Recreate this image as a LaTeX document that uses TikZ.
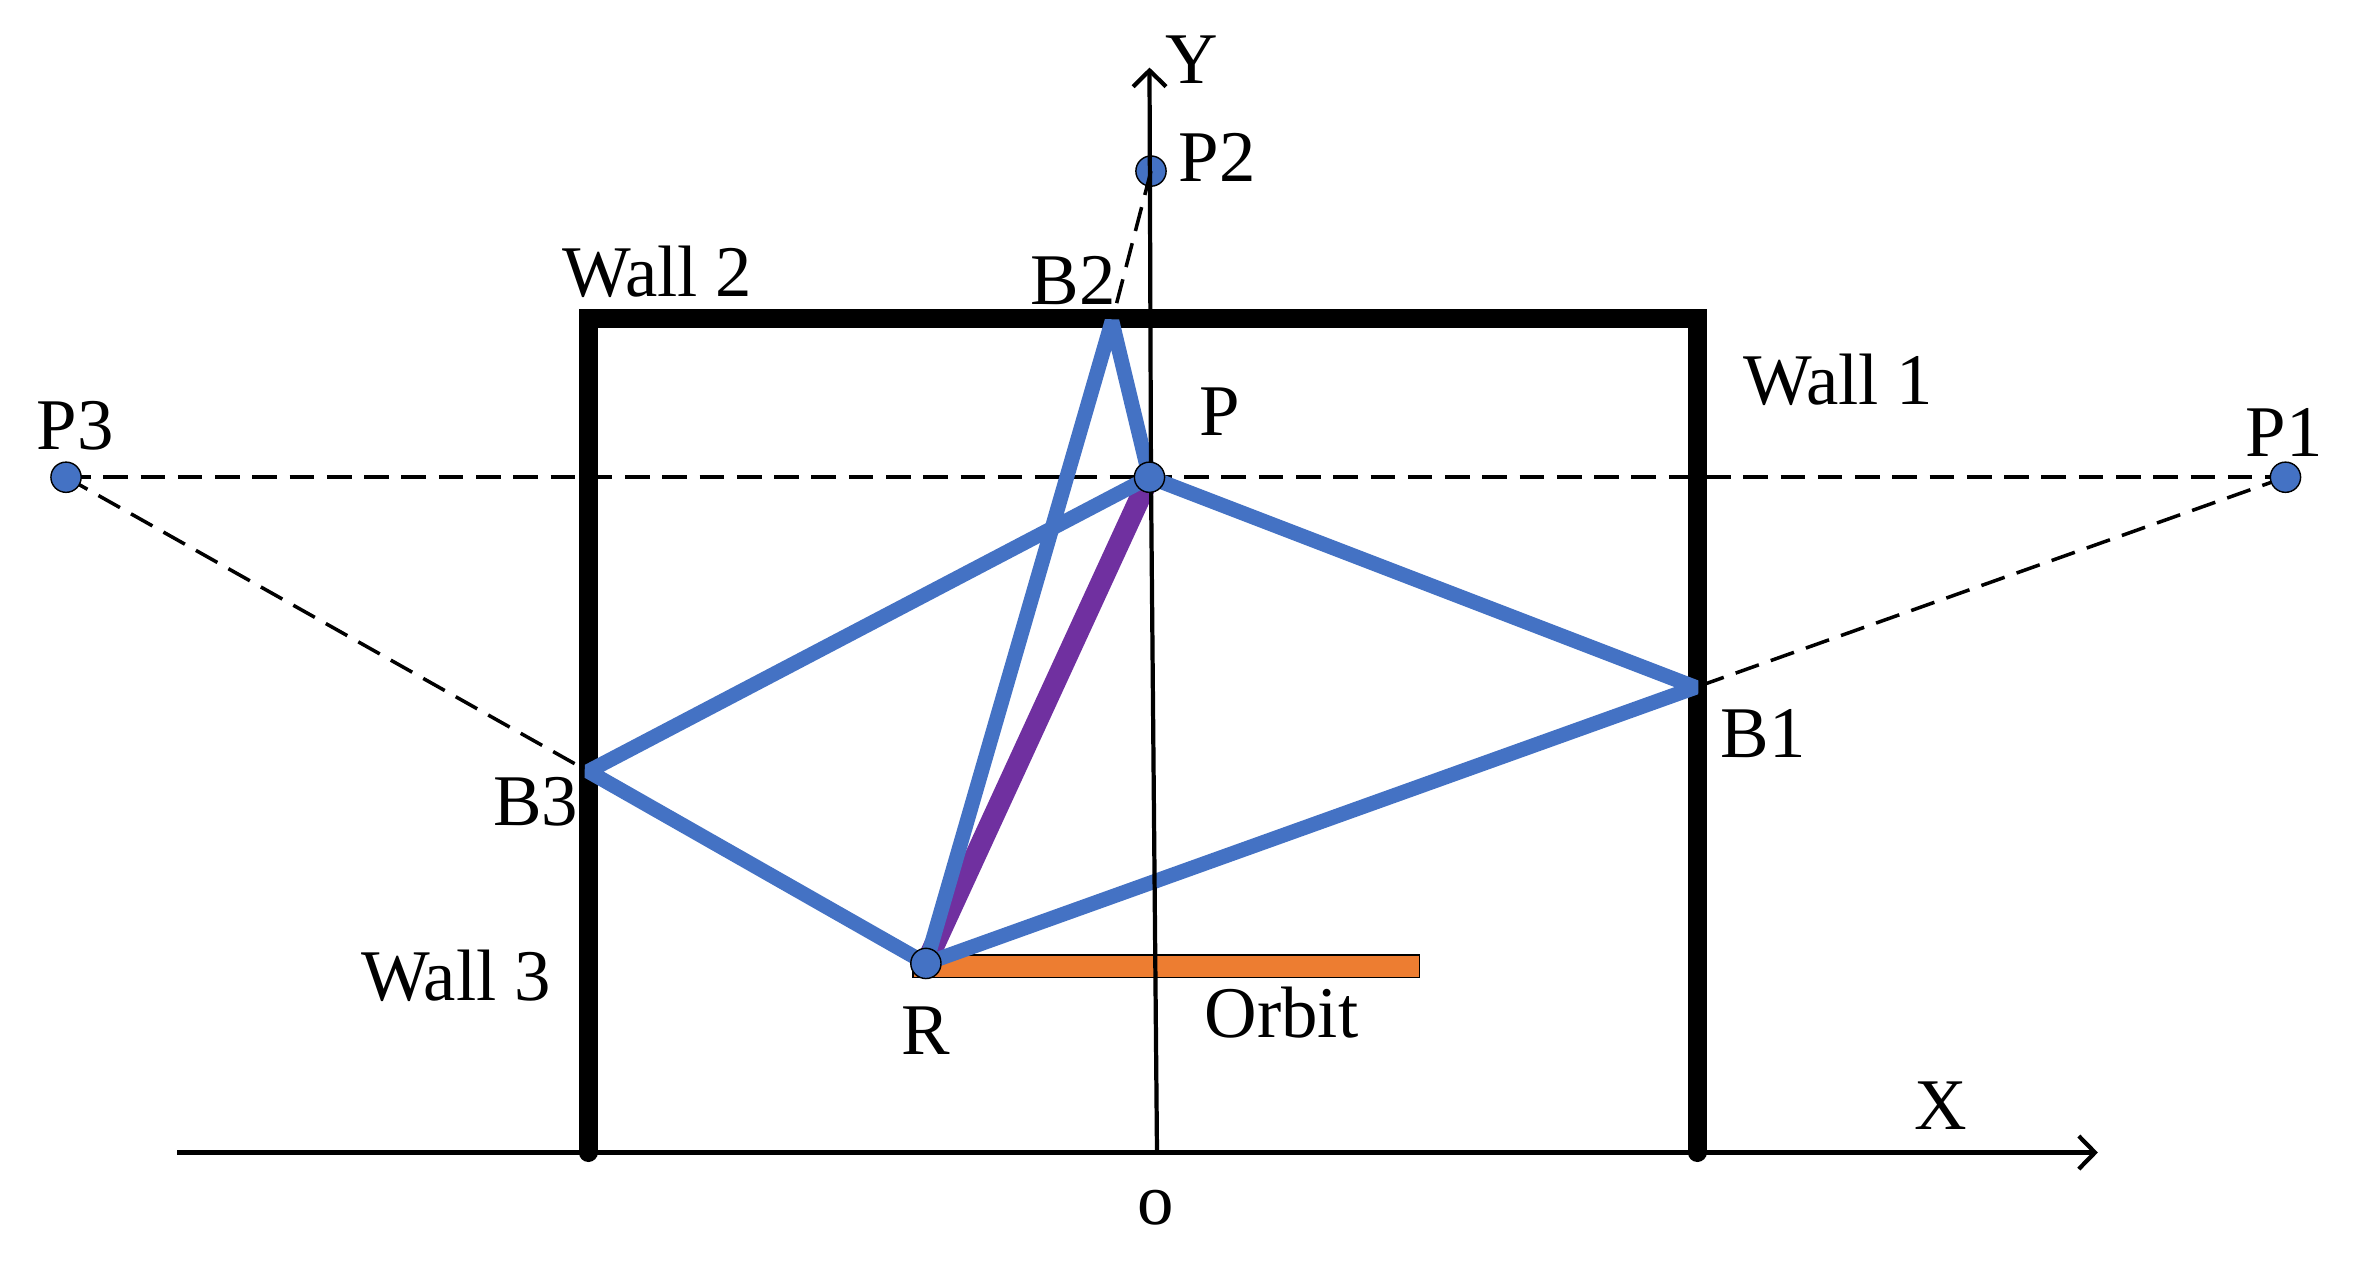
\documentclass[tikz,border=0pt]{standalone}
\usepackage{fontspec}
\setmainfont{Liberation Serif}
\usetikzlibrary{arrows.meta}
\definecolor{rayblue}{HTML}{4472C4}
\definecolor{raypurple}{HTML}{7030A0}
\definecolor{orbitorange}{HTML}{ED7D31}
\tikzset{
  x=0.015006cm,y=-0.015006cm,
  wall/.style={line width=5.4pt,line cap=round,line join=miter},
  axis/.style={line width=1.2pt,-{Straight Barb[length=4.6pt,width=9.4pt,line width=1.2pt]}},
  ray/.style={line width=4.2pt,rayblue,line join=bevel},
  direct/.style={line width=6pt,raypurple},
  image/.style={line width=1pt,dash pattern=on 7pt off 3.6pt},
  pt/.style={circle,draw=black,line width=0.4pt,fill=rayblue,minimum size=8.6pt,inner sep=0pt},
  lbl/.style={font=\fontsize{20.7pt}{24pt}\selectfont,inner sep=0pt,anchor=center},
}
\begin{document}
\begin{tikzpicture}
\useasboundingbox (0,0) rectangle (1568,841);
% coordinates
\coordinate (B1) at (1130,458);
\coordinate (B2) at (741,214);
\coordinate (B3) at (392,514);
\coordinate (WTL) at (392,212);
\coordinate (WTR) at (1131,212);
\coordinate (WBL) at (392,768);
\coordinate (WBR) at (1131,768);
\coordinate (XS) at (118,768);
\coordinate (XE) at (1398,768);
\coordinate (YS) at (771,768);
\coordinate (YM) at (767,320);
\coordinate (YE) at (766,45);
% orbit
\node[draw=black,line width=0.4pt,fill=orbitorange,inner sep=0pt,
      anchor=north west,minimum width=5.06cm,minimum height=0.225cm] (orbit) at (608,636) {};
\coordinate (Pc) at (766,318);
\coordinate (P1c) at (1523,318);
\coordinate (P2c) at (767,114);
\coordinate (P3c) at (44,318);
\coordinate (Rc) at (617,642);
% P2 dot under dashed line
\node[pt] (P2) at (P2c) {};
% dashed
\draw[image] (P3c) -- (P1c);
\draw[image] (P3c) -- (B3);
\draw[image] (P1c) -- (B1);
\draw[image] (P2c) -- (B2);
% walls
\draw[wall] (WBL) -- (WTL) -- (WTR) -- (WBR);
% rays
\draw[direct] (Rc) -- (Pc);
\draw[ray] (Rc) -- (B1) -- (Pc);
\draw[ray] (Rc) -- (B3) -- (Pc);
\draw[ray] (Rc) -- (B2) -- (Pc);
% axes
\draw[axis] (XS) -- (XE);
\draw[line width=1.2pt] (YS) -- (YM);
\draw[axis] (YM) -- (YE);
% dots
\node[pt] (P1) at (P1c) {};
\node[pt] (P3) at (P3c) {};
\node[pt] (P) at (Pc) {};
\node[pt] (R) at (Rc) {};
% labels
\node[lbl] (tY) at (794,40) {Y};
\node[lbl] (tP2) at (811,105) {P2};
\node[lbl] (tW2) at (438,181) {Wall 2};
\node[lbl] (tB2) at (715,187) {B2};
\node[lbl] (tP) at (813,274) {P};
\node[lbl] (tW1) at (1225,253) {Wall 1};
\node[lbl] (tP3) at (50,284) {P3};
\node[lbl] (tP1) at (1522,288) {P1};
\node[lbl] (tB1) at (1175,489) {B1};
\node[lbl] (tB3) at (357,534) {B3};
\node[lbl] (tW3) at (304,650) {Wall 3};
\node[lbl] (tR) at (617,687) {R};
\node[lbl] (tO) at (854,675) {Orbit};
\node[lbl] (tX) at (1293,737) {X};
\node[lbl] (to) at (770,805) {o};
\end{tikzpicture}
\end{document}
